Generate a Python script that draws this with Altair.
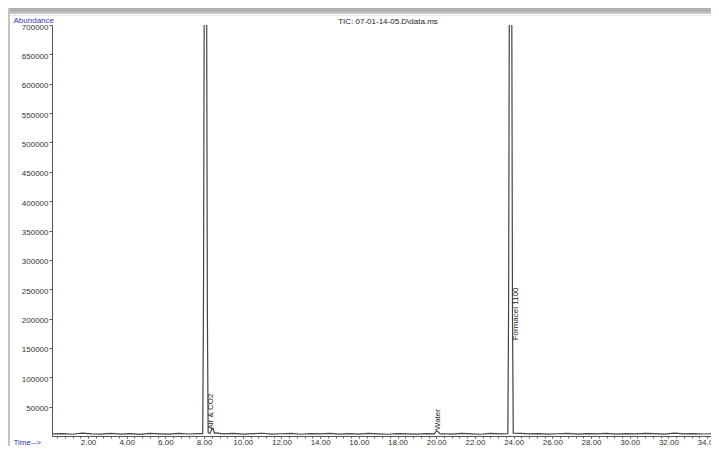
import altair as alt
import pandas as pd

# Baseline (approx.)
base_time = [0.2, 0.7, 1.2, 1.7, 2.2, 2.7, 3.2, 3.7, 4.2, 4.7, 5.2, 5.7, 6.2, 6.7, 7.2, 7.7,
             8.6, 9.0, 9.5, 10.0, 10.5, 11.0, 11.5, 12.0, 12.5, 13.0, 13.5, 14.0, 14.5, 15.0,
             15.5, 16.0, 16.5, 17.0, 17.5, 18.0, 18.5, 19.0, 19.5, 20.4, 20.8, 21.3, 21.8,
             22.3, 22.8, 23.3, 24.4, 24.8, 25.3, 25.8, 26.3, 26.8, 27.3, 27.8, 28.3, 28.8,
             29.3, 29.8, 30.3, 30.8, 31.3, 31.8, 32.3, 32.8, 33.3, 33.8, 34.3]
base_abund = [3500, 4200, 3000, 4800, 3600, 3100, 4500, 3300, 4000, 2900, 4300, 3700, 3200, 4600, 3400, 3900,
              5200, 3600, 4400, 3200, 3900, 4700, 3100, 3800, 4300, 3000, 4100, 3600, 4500, 3300,
              3900, 3200, 4400, 3600, 3000, 4200, 3700, 3300, 4100, 3800, 3200, 4300, 3600,
              3000, 4400, 3700, 4600, 3500, 4100, 3200, 3800, 4400, 3100, 3900, 3600, 4300,
              3200, 4000, 3500, 4600, 3900, 3300, 4800, 3600, 4200, 3400, 3900]

# Peaks (clipped at the top of the scale in the original)
peak_time = [7.93, 7.97, 8.01, 8.13, 8.17, 8.21, 8.30, 8.40, 8.47, 8.53,
             19.90, 20.02, 20.10, 20.20,
             23.70, 23.74, 23.78, 23.90, 23.94, 23.98]
peak_abund = [4000, 230000, 780000, 780000, 210000, 6000, 4000, 11000, 13000, 4500,
              3800, 9000, 7000, 3600,
              4000, 230000, 780000, 780000, 210000, 5000]

# Annotations
ann_label = ["Air & CO2", "Water", "Formacel 1100"]
ann_time = [8.35, 20.08, 24.10]
ann_abund = [11000, 10000, 163000]

title_text = ["TIC: 07-01-14-05.D\\data.ms"]

y_ticks = [50000, 100000, 150000, 200000, 250000, 300000, 350000, 400000, 450000,
           500000, 550000, 600000, 650000, 700000]
x_ticks = [2, 4, 6, 8, 10, 12, 14, 16, 18, 20, 22, 24, 26, 28, 30, 32, 34]
x_minor = [round(0.4 * i, 1) for i in range(1, 86)]

df = pd.DataFrame({"time": base_time + peak_time, "abund": base_abund + peak_abund}).sort_values("time")
ann = pd.DataFrame({"label": ann_label, "time": ann_time, "abund": ann_abund})
ttl = pd.DataFrame({"t": title_text})

FONT = "Liberation Sans"
W, H = 659, 411
XDOM = [0.14, 34.2]


def xs():
    return alt.Scale(domain=XDOM, nice=False, zero=False)


def ys():
    return alt.Scale(domain=[0, 700000], nice=False)


line = alt.Chart(df).mark_line(color="#444444", strokeWidth=1.2, clip=True).encode(
    x=alt.X("time:Q", scale=xs(),
            axis=alt.Axis(values=x_ticks, format=".2f", grid=False, tickSize=2, labelPadding=0,
                          labelFontSize=8, labelColor="#333333", labelFont=FONT, domainColor="#555555",
                          tickColor="#555555", title="Time-->", titleColor="#3333cc", titleFont=FONT,
                          titleFontSize=8, titleFontWeight="normal", titleAlign="left",
                          titleAnchor="start", titleX=-39, titleY=6, titleBaseline="middle",
                          labelFlush=False, labelOverlap=False)),
    y=alt.Y("abund:Q", scale=ys(),
            axis=alt.Axis(values=y_ticks, format="d", grid=False, tickSize=3, labelPadding=1,
                          labelOffset=2,
                          labelFontSize=8, labelColor="#333333", labelFont=FONT, domainColor="#555555",
                          tickColor="#555555", title="Abundance", titleColor="#3333cc", titleFont=FONT,
                          titleFontSize=8, titleFontWeight="normal", titleAngle=0, titleAlign="left",
                          titleX=-39, titleY=-5, titleBaseline="middle", labelFlush=False,
                          labelOverlap=False)),
)

minor = alt.Chart(df).mark_line(opacity=0).encode(
    x=alt.X("time:Q", scale=xs(),
            axis=alt.Axis(values=x_minor, labels=False, domain=False, grid=False, tickSize=2,
                          tickColor="#666666", title=None, orient="bottom")),
    y=alt.Y("abund:Q", scale=ys(), axis=None),
)

text = alt.Chart(ann).mark_text(angle=270, align="left", baseline="middle", fontSize=8,
                                 font=FONT, color="#222222").encode(
    x=alt.X("time:Q", scale=xs(), axis=None),
    y=alt.Y("abund:Q", scale=ys(), axis=None),
    text="label:N",
)

title = alt.Chart(ttl).mark_text(fontSize=8, font=FONT, color="#222222", align="center",
                                  baseline="middle").encode(
    x=alt.value(336), y=alt.value(-3), text="t:N")

one = pd.DataFrame({"k": [0]})
top_band = alt.Chart(one).mark_rect(color="#b0b0b0").encode(
    x=alt.value(-44), x2=alt.value(W), y=alt.value(-17), y2=alt.value(-13))
top_light = alt.Chart(one).mark_rect(color="#c8c8c8").encode(
    x=alt.value(-44), x2=alt.value(W), y=alt.value(-13), y2=alt.value(-11))
green = alt.Chart(one).mark_rect(color="#dcf2dc").encode(
    x=alt.value(-42), x2=alt.value(W), y=alt.value(-10), y2=alt.value(-9))
left_band = alt.Chart(one).mark_rect(color="#c4c4c4").encode(
    x=alt.value(-44), x2=alt.value(-42), y=alt.value(-17), y2=alt.value(H + 10))

chart = alt.layer(top_band, top_light, green, left_band, line, minor, text, title).resolve_scale(
    x="independent", y="independent"
).properties(
    width=W, height=H,
    padding={"left": 44, "top": 17, "right": 0, "bottom": 10},
    autosize=alt.AutoSizeParams(type="none"),
    background="white",
).configure_view(stroke=None)

chart.save("out.html", embed_options={"renderer": "svg", "actions": False})
